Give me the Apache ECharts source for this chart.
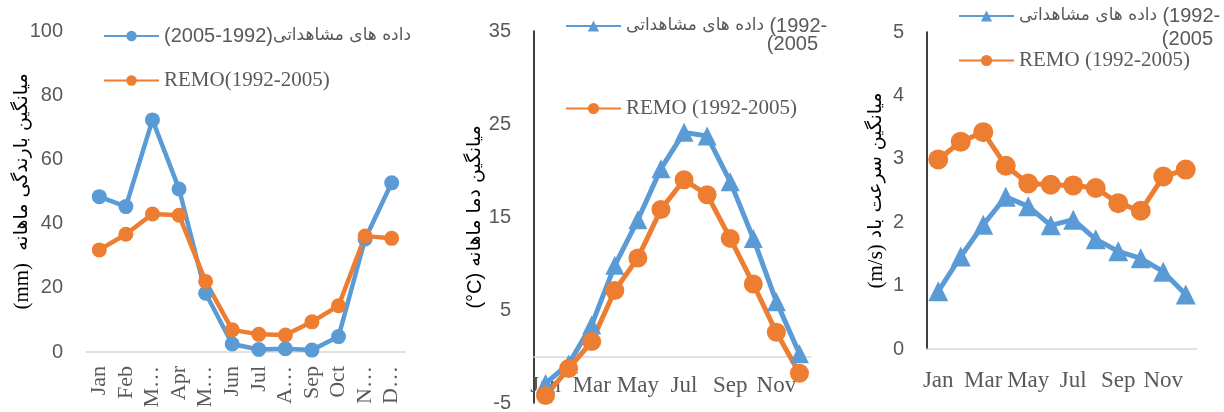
<!DOCTYPE html>
<html>
<head>
<meta charset="utf-8">
<script src="https://cdn.jsdelivr.net/npm/echarts@6/dist/echarts.min.js"></script>
<style>
  html, body { margin: 0; padding: 0; background: #fff; }
  #chart { width: 1224px; height: 412px; }
</style>
</head>
<body>
<div id="chart"></div>
<script>
// month categories
const months = ["Jan", "Feb", "Mar", "Apr", "May", "Jun", "Jul", "Aug", "Sep", "Oct", "Nov", "Dec"];
// panel 1 shows truncated labels
const rainTickLabels = ["Jan", "Feb", "M…", "Apr", "M…", "Jun", "Jul", "A…", "Sep", "Oct", "N…", "D…"];

// monthly precipitation (mm)
const rainObs = [48.4, 45.3, 72.3, 50.8, 18.3, 2.5, 0.8, 1.0, 0.6, 4.8, 35.2, 52.7];
const rainRemo = [31.8, 36.7, 43.0, 42.6, 22.0, 6.9, 5.5, 5.3, 9.4, 14.4, 36.1, 35.4];

// monthly mean temperature (°C)
const tempObs = [-2.9, -0.8, 3.4, 9.8, 14.7, 20.2, 24.1, 23.7, 18.8, 12.7, 5.9, 0.3];
const tempRemo = [-4.2, -1.3, 1.6, 7.1, 10.6, 15.8, 19.0, 17.4, 12.7, 7.8, 2.6, -1.8];

// monthly mean wind speed (m/s)
const windObs = [0.91, 1.46, 1.96, 2.40, 2.25, 1.95, 2.04, 1.73, 1.54, 1.43, 1.22, 0.86];
const windRemo = [2.99, 3.27, 3.42, 2.89, 2.61, 2.59, 2.58, 2.54, 2.30, 2.18, 2.72, 2.83];

const OBS1 = "داده های مشاهداتی(1992-2005)";
const OBS2 = "داده های مشاهداتی (1992-2005)";
const REMO1 = "REMO(1992-2005)";
const REMO2 = "REMO (1992-2005)";

const BLUE = "#5B9BD5";
const ORANGE = "#ED7D31";
const GREY = "#595959";
const SANS = "Liberation Sans, DejaVu Sans, sans-serif";
const SERIF = "Liberation Serif, DejaVu Serif, serif";
const PERS = "DejaVu Sans, sans-serif";

const rich = {
  n: { fontFamily: SANS, fontSize: 20, color: GREY },
  p: { fontFamily: PERS, fontSize: 17, color: GREY },
  t: { fontFamily: SERIF, fontSize: 21, color: GREY },
};

const legendText = {
  [OBS1]: "{n|(2005-1992)}{p|داده های مشاهداتی}",
  [OBS2]: "{p|داده های مشاهداتی }{n|(1992-}",
  [REMO1]: "{t|REMO(1992-2005)}",
  [REMO2]: "{t|REMO (1992-2005)}",
};

function makeLegend(left, top, gap, names, h) {
  return {
    orient: "vertical",
    left: left,
    top: top,
    padding: 0,
    itemWidth: 55,
    itemHeight: h,
    itemGap: gap,
    data: names,
    formatter: (name) => legendText[name],
    textStyle: { rich: rich },
  };
}

const nameRich = {
  p: { fontFamily: PERS, fontSize: 19, color: "#000" },
  t: { fontFamily: SERIF, fontSize: 21, color: "#000" },
  s: { fontFamily: SANS, fontSize: 20, color: "#000" },
};

function makeX(grid, label) {
  return {
    type: "category",
    gridIndex: grid,
    data: months,
    axisTick: { show: false },
    axisLine: { lineStyle: { color: "#d9d9d9", width: 1.5 } },
    axisLabel: Object.assign({ fontFamily: SERIF, fontSize: 23, color: GREY }, label),
  };
}

function makeY(grid, min, max, interval, name, gap, showLine) {
  return {
    type: "value",
    gridIndex: grid,
    min: min,
    max: max,
    interval: interval,
    name: name,
    nameLocation: "middle",
    nameGap: gap,
    nameMoveOverlap: false,
    nameTextStyle: { rich: nameRich },
    splitLine: { show: false },
    axisTick: { show: false },
    axisLine: { show: showLine, lineStyle: { color: "#000", width: 1.5 } },
    axisLabel: { fontFamily: SANS, fontSize: 20, color: GREY, margin: 23 },
  };
}

function line(name, idx, data, color, symbol, size, width) {
  return {
    name: name,
    type: "line",
    xAxisIndex: idx,
    yAxisIndex: idx,
    data: data,
    symbol: symbol,
    symbolSize: size,
    showSymbol: true,
    showAllSymbol: true,
    lineStyle: { color: color, width: width },
    itemStyle: { color: color },
  };
}

const chart = echarts.init(document.getElementById("chart"));
chart.setOption({
  animation: false,
  legend: [
    makeLegend(103, 26, 24, [OBS1, REMO1], 13),
    makeLegend(565, 16, 62, [OBS2, REMO2], 14),
    makeLegend(958, 6, 24, [OBS2, REMO2], 14),
  ],
  grid: [
    { left: 86, top: 31, width: 319, height: 321, outerBoundsMode: "none" },
    { left: 534, top: 31, width: 277, height: 372, outerBoundsMode: "none" },
    { left: 927, top: 32, width: 270, height: 317, outerBoundsMode: "none" },
  ],
  xAxis: [
    makeX(0, { fontSize: 22, rotate: 90, margin: 14, interval: 0, formatter: (v, i) => rainTickLabels[i] }),
    makeX(1, { interval: 1, inside: true, margin: 6 }),
    makeX(2, { interval: 1, margin: 20 }),
  ],
  yAxis: [
    makeY(0, 0, 100, 20, "{t|(mm)}{p|  میانگین بارندگی ماهانه}", 53, false),
    makeY(1, -5, 35, 10, "{s|(°C)}{p| میانگین دما ماهانه}", 49, true),
    makeY(2, 0, 5, 1, "{t|(m/s)}{p| میانگین سرعت باد}", 40, true),
  ],
  series: [
    line(OBS1, 0, rainObs, BLUE, "circle", 15, 4.5),
    line(REMO1, 0, rainRemo, ORANGE, "circle", 15, 4.5),
    line(OBS2, 1, tempObs, BLUE, "triangle", 19, 5),
    line(REMO2, 1, tempRemo, ORANGE, "circle", 19, 5),
    line(OBS2, 2, windObs, BLUE, "triangle", 20, 5),
    line(REMO2, 2, windRemo, ORANGE, "circle", 20, 5),
  ],
  graphic: [
    { type: "text", right: 406, top: 34, style: { text: "(2005", font: "20px " + SANS, fill: GREY } },
    { type: "text", right: 11, top: 29, style: { text: "(2005", font: "20px " + SANS, fill: GREY } },
  ],
});
</script>
</body>
</html>
